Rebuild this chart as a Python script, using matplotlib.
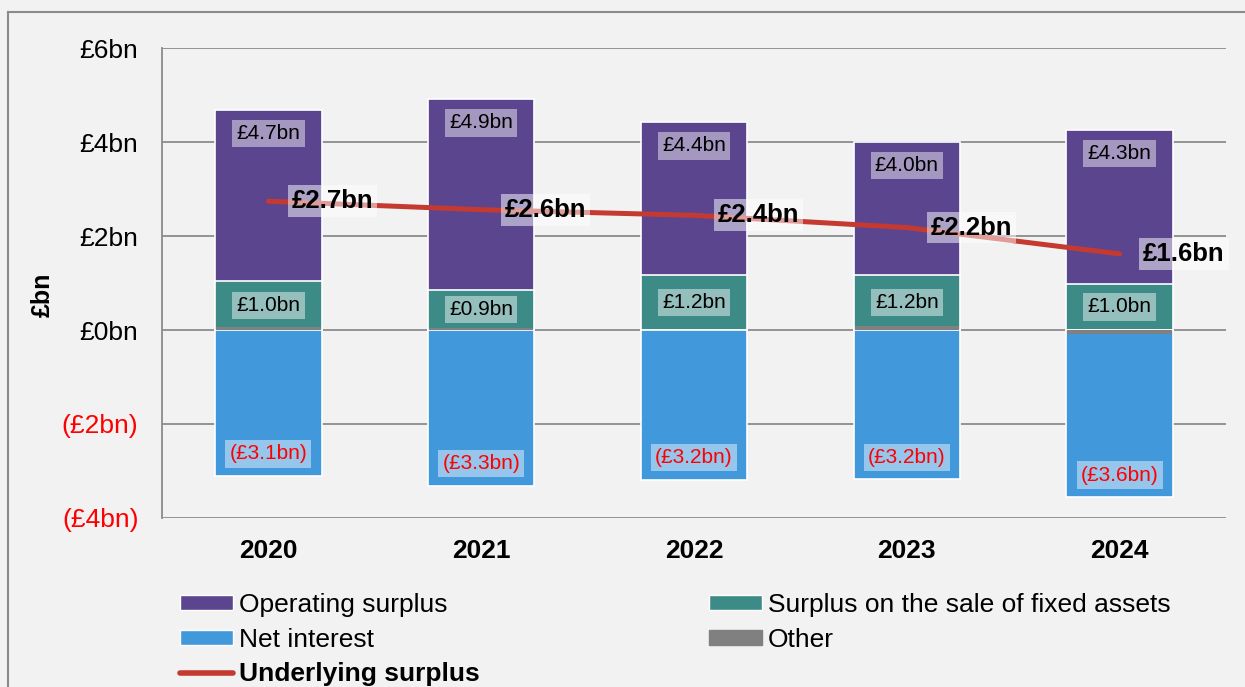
import matplotlib
matplotlib.use("Agg")
import matplotlib.pyplot as plt
from matplotlib.patches import Patch
from matplotlib.lines import Line2D

plt.rcParams['font.family'] = ['Liberation Sans', 'DejaVu Sans']

# ---- data (£bn) ----
years = ['2020', '2021', '2022', '2023', '2024']
operating_surplus = [4.68, 4.91, 4.42, 4.00, 4.26]
fixed_asset_surplus = [1.04, 0.86, 1.16, 1.17, 0.98]
net_interest = [-3.11, -3.31, -3.19, -3.18, -3.56]
other = [0.07, 0.05, 0.01, 0.09, -0.08]
underlying_surplus = [2.74, 2.56, 2.44, 2.18, 1.62]
y_ticks = [-4, -2, 0, 2, 4, 6]

# ---- style ----
C_PURPLE = '#5b458f'
C_TEAL = '#3d8b87'
C_BLUE = '#4199dc'
C_GREY = '#808080'
C_RED = '#c43a31'
BG = '#f2f2f2'
GRID = '#8c8c8c'

W, H = 1245, 687
fig = plt.figure(figsize=(W / 100, H / 100), dpi=100, facecolor=BG)
ax = fig.add_axes([162 / W, 1 - 518 / H, (1226 - 162) / W, (518 - 48) / H])
ax.set_facecolor(BG)

x = list(range(len(years)))
bw = 0.5

ax.bar(x, operating_surplus, width=bw, color=C_PURPLE, edgecolor='white', linewidth=1.2, zorder=2)
ax.bar(x, fixed_asset_surplus, width=bw, color=C_TEAL, edgecolor='white', linewidth=1.2, zorder=3)
ax.bar(x, net_interest, width=bw, color=C_BLUE, edgecolor='white', linewidth=1.2, zorder=3)
ax.bar(x, other, width=bw - 0.01, color=C_GREY, linewidth=0, zorder=4)
ax.plot(x, underlying_surplus, color=C_RED, lw=3.6, solid_capstyle='round', zorder=5)

lab_fs = 15
for xi, v in zip(x, operating_surplus):
    ax.annotate(f"£{v:.1f}bn", (xi, v), xytext=(0, -17), textcoords='offset points',
                ha='center', va='center', fontsize=lab_fs, color='black', zorder=7,
                bbox=dict(boxstyle='square,pad=0.2', fc='white', ec='none', alpha=0.45))
for xi, v in zip(x, fixed_asset_surplus):
    ax.annotate(f"£{v:.1f}bn", (xi, v / 2), ha='center', va='center', fontsize=lab_fs,
                color='black', zorder=7,
                bbox=dict(boxstyle='square,pad=0.2', fc='white', ec='none', alpha=0.45))
for xi, v in zip(x, net_interest):
    ax.annotate(f"(£{abs(v):.1f}bn)", (xi, v), xytext=(0, 16), textcoords='offset points',
                ha='center', va='center', fontsize=lab_fs, color='#ff0000', zorder=7,
                bbox=dict(boxstyle='square,pad=0.2', fc='white', ec='none', alpha=0.45))
for xi, v in zip(x, underlying_surplus):
    ax.annotate(f"£{v:.1f}bn", (xi, v), xytext=(17, 0), textcoords='offset points',
                ha='left', va='center', fontsize=18.5, fontweight='bold', color='black', zorder=8,
                bbox=dict(boxstyle='square,pad=0.15', fc='white', ec='none', alpha=0.5))

ax.set_xlim(-0.5, len(years) - 0.5)
ax.set_ylim(min(y_ticks), max(y_ticks))
ax.set_yticks(y_ticks)
ax.set_yticklabels([f"£{t}bn" if t >= 0 else f"(£{abs(t)}bn)" for t in y_ticks])
for lbl, t in zip(ax.get_yticklabels(), y_ticks):
    lbl.set_color('#ff0000' if t < 0 else 'black')
ax.set_xticks(x)
ax.set_xticklabels(years, fontweight='bold')
ax.tick_params(axis='y', length=0, pad=17, labelsize=19)
ax.tick_params(axis='x', length=0, pad=15, labelsize=19)

ax.grid(axis='y', color=GRID, lw=1.3, zorder=0)
ax.set_axisbelow(True)
for s in ['top', 'right', 'bottom']:
    ax.spines[s].set_visible(False)
ax.spines['left'].set_color(GRID)
ax.spines['left'].set_linewidth(1.3)

fig.text(43 / W, 1 - 295 / H, '£bn', rotation=90, fontsize=18, fontweight='bold',
         ha='center', va='center')

# outer frame
fig.add_artist(Line2D([8 / W, 8 / W], [0, 1 - 12 / H], color='#8a8a8a', lw=1.5, transform=fig.transFigure))
fig.add_artist(Line2D([8 / W, 1], [1 - 12 / H, 1 - 12 / H], color='#8a8a8a', lw=1.5, transform=fig.transFigure))

# legend
h_op = Patch(facecolor=C_PURPLE, edgecolor='white', lw=1, label='Operating surplus')
h_ni = Patch(facecolor=C_BLUE, edgecolor='white', lw=1, label='Net interest')
h_us = Line2D([], [], color=C_RED, lw=4, solid_capstyle='round', label='Underlying surplus')
h_fa = Patch(facecolor=C_TEAL, edgecolor='white', lw=1, label='Surplus on the sale of fixed assets')
h_ot = Patch(facecolor=C_GREY, edgecolor=C_GREY, lw=1, label='Other')

common = dict(loc='upper left', frameon=False, borderpad=0, borderaxespad=0,
              handlelength=2.0, handleheight=0.5, handletextpad=0.23,
              labelspacing=0.4, fontsize=19)
leg1 = fig.legend(handles=[h_op, h_ni, h_us], bbox_to_anchor=(180 / W, 1 - 593 / H), **common)
leg1.get_texts()[2].set_fontweight('bold')
leg2 = fig.legend(handles=[h_fa, h_ot], bbox_to_anchor=(709 / W, 1 - 593 / H), **common)

fig.savefig('out.png', dpi=100, facecolor=BG)
